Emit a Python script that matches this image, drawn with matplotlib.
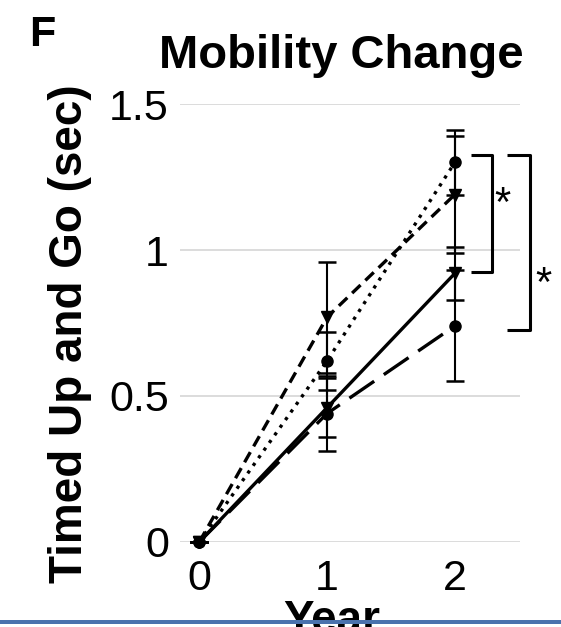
import matplotlib
matplotlib.use("Agg")
from matplotlib import pyplot as plt
from matplotlib.patches import Rectangle

# data
years = [0, 1, 2]
dotted_mean = [0, 0.62, 1.30]
dotted_err = [0, 0.10, 0.11]
dashed_mean = [0, 0.77, 1.19]
dashed_err = [0, 0.19, 0.20]
solid_mean = [0, 0.46, 0.92]
solid_err = [0, 0.10, 0.09]
longdash_mean = [0, 0.44, 0.74]
longdash_err = [0, 0.13, 0.19]
y_ticks = [0, 0.5, 1, 1.5]
y_tick_labels = ["0", "0.5", "1", "1.5"]

plt.rcParams['font.family'] = ['Liberation Sans', 'DejaVu Sans']

fig = plt.figure(figsize=(5.61, 6.27), dpi=100)
ax = fig.add_axes([0.321, 0.1356, 0.606, 0.6985])

series = [
    (dotted_mean, dotted_err, 'o', (0, (1.0, 1.8))),
    (dashed_mean, dashed_err, 'v', (0, (3.5, 2.0))),
    (solid_mean, solid_err, 'v', '-'),
    (longdash_mean, longdash_err, 'o', (0, (9, 3.5))),
]
for mean, err, mk, ls in series:
    ax.errorbar(years, mean, yerr=err, color='black', ecolor='black',
                elinewidth=1.5, capsize=6.5, capthick=1.8,
                marker=mk, markersize=8, linestyle=ls, linewidth=2.4,
                clip_on=False, zorder=3)

ax.set_xlim(-0.15, 2.51)
ax.set_ylim(0, 1.5)
ax.set_yticks(y_ticks, y_tick_labels)
ax.set_xticks(years, [str(y) for y in years])
ax.tick_params(length=0, labelsize=31, pad=8)
ax.tick_params(axis='x', pad=12)
for s in ax.spines.values():
    s.set_visible(False)
ax.grid(axis='y', color='#d9d9d9', linewidth=1.3)
ax.set_axisbelow(True)

# significance brackets
def bracket(x0, x1, y0, y1):
    ax.plot([x0, x1, x1, x0], [y1, y1, y0, y0], color='black',
            linewidth=2.2, clip_on=False, solid_capstyle='butt')

bracket(2.13, 2.29, 0.925, 1.325)
bracket(2.41, 2.59, 0.726, 1.325)
ax.text(2.375, 1.155, "*", fontsize=30, ha='center', va='center', clip_on=False)
ax.text(2.695, 0.88, "*", fontsize=30, ha='center', va='center', clip_on=False)

ax.set_ylabel("Timed Up and Go (sec)", fontsize=33, fontweight='bold')
ax.yaxis.set_label_coords(-0.26, 0.475)

fig.text(0.608, 0.8915, "Mobility Change", fontsize=34, fontweight='bold',
         ha='center', va='baseline')
fig.text(0.052, 0.9266, "F", fontsize=31, fontweight='bold', ha='left', va='baseline')
fig.text(0.592, -0.01, "Year", fontsize=33, fontweight='bold', ha='center', va='baseline')

# blue frame line at the bottom of the screenshot
fig.patches.append(Rectangle((0, 3 / 627), 1, 4 / 627, transform=fig.transFigure,
                             facecolor='#4a72ad', edgecolor='none', zorder=10))

fig.savefig("out.png", dpi=100)
